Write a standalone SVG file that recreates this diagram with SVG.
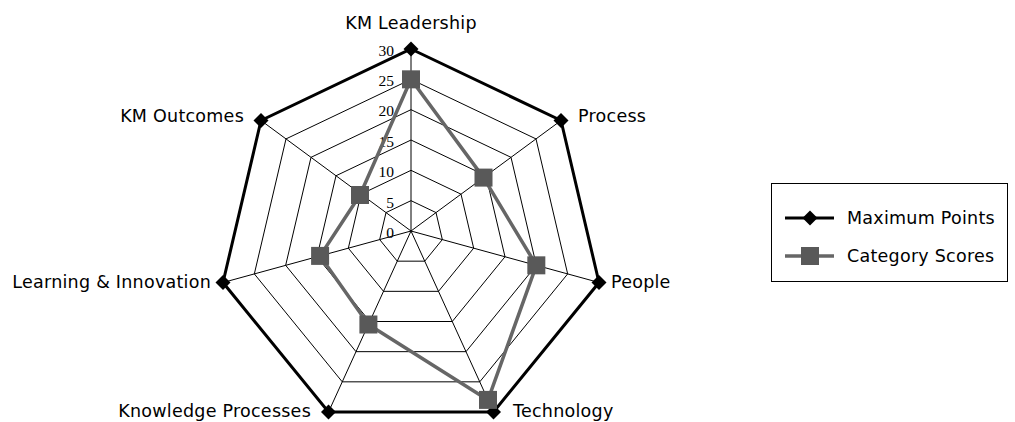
<svg xmlns="http://www.w3.org/2000/svg" width="1015" height="422" viewBox="0 0 1015 422">
<style>
.grid{fill:none;stroke:#000;stroke-width:1}
.max{fill:none;stroke:#000;stroke-width:3;stroke-linejoin:miter}
.score{fill:none;stroke:#666;stroke-width:3.5;stroke-linejoin:round}
.lbl{font-family:"DejaVu Sans",Verdana,sans-serif;font-size:17.5px;letter-spacing:0.25px;fill:#000}
.tick{font-family:"Liberation Serif","Times New Roman",serif;font-size:15.5px;fill:#000;text-anchor:end}
</style>
<defs>
<path id="dia" d="M0,-7.5 L7.5,0 L0,7.5 L-7.5,0 Z" fill="#000"/>
<rect id="sq" x="-9" y="-9" width="18" height="18" fill="#595959"/>
</defs>
<rect width="1015" height="422" fill="#fff"/>
<g id="grid">
<polygon class="grid" points="411,200.67 436,212.58 442.33,239.58 424.75,261.17 397.25,261.17 379.67,239.58 386,212.58"/>
<polygon class="grid" points="411,170.33 461,194.17 473.67,248.17 438.5,291.33 383.5,291.33 348.33,248.17 361,194.17"/>
<polygon class="grid" points="411,140 486,175.75 505,256.75 452.25,321.5 369.75,321.5 317,256.75 336,175.75"/>
<polygon class="grid" points="411,109.67 511,157.33 536.33,265.33 466,351.67 356,351.67 285.67,265.33 311,157.33"/>
<polygon class="grid" points="411,79.33 536,138.92 567.67,273.92 479.75,381.83 342.25,381.83 254.33,273.92 286,138.92"/>
<path class="grid" d="M411,231 L411,49 M411,231 L561,120.5 M411,231 L599,282.5 M411,231 L493.5,412 M411,231 L328.5,412 M411,231 L223,282.5 M411,231 L261,120.5"/>
</g>
<g id="ticks">
<text class="tick" x="394" y="56">30</text>
<text class="tick" x="394" y="86">25</text>
<text class="tick" x="394" y="116">20</text>
<text class="tick" x="394" y="147">15</text>
<text class="tick" x="394" y="177">10</text>
<text class="tick" x="394" y="208">5</text>
<text class="tick" x="394" y="238">0</text>
</g>
<g id="connectors">
<polygon id="max-series" class="max" points="411,49 561,120.5 599,282.5 493.5,412 328.5,412 223,282.5 261,120.5"/>
<polygon id="score-series" class="score" points="411,79.33 483.5,177.6 536.33,265.33 488,399.9 368.4,324.5 320.1,255.9 360,195"/>
</g>
<g id="max-markers">
<use href="#dia" x="411" y="49"/>
<use href="#dia" x="561" y="120.5"/>
<use href="#dia" x="599" y="282.5"/>
<use href="#dia" x="493.5" y="412"/>
<use href="#dia" x="328.5" y="412"/>
<use href="#dia" x="223" y="282.5"/>
<use href="#dia" x="261" y="120.5"/>
</g>
<g id="score-markers">
<use href="#sq" x="411" y="79.33"/>
<use href="#sq" x="483.5" y="177.6"/>
<use href="#sq" x="536.33" y="265.33"/>
<use href="#sq" x="488" y="399.9"/>
<use href="#sq" x="368.4" y="324.5"/>
<use href="#sq" x="320.1" y="255.9"/>
<use href="#sq" x="360" y="195"/>
</g>
<g id="axis-labels">
<g id="n-km-leadership"><text class="lbl" x="411" y="29" text-anchor="middle">KM Leadership</text></g>
<g id="n-process"><text class="lbl" x="578" y="122">Process</text></g>
<g id="n-people"><text class="lbl" x="611" y="288">People</text></g>
<g id="n-technology"><text class="lbl" x="513" y="417">Technology</text></g>
<g id="n-knowledge-processes"><text class="lbl" x="311" y="417" text-anchor="end">Knowledge Processes</text></g>
<g id="n-learning"><text class="lbl" x="211" y="288" text-anchor="end">Learning &amp; Innovation</text></g>
<g id="n-km-outcomes"><text class="lbl" x="244" y="122" text-anchor="end">KM Outcomes</text></g>
</g>
<g id="legend">
<rect x="771.5" y="183.5" width="236" height="98" fill="#fff" stroke="#000" stroke-width="1"/>
<line x1="785" y1="218" x2="834" y2="218" stroke="#000" stroke-width="3"/>
<use href="#dia" x="810" y="218"/>
<text class="lbl" x="847" y="224">Maximum Points</text>
<line x1="785" y1="256" x2="834" y2="256" stroke="#666" stroke-width="3.5"/>
<use href="#sq" x="810" y="256"/>
<text class="lbl" x="847" y="262">Category Scores</text>
</g>
</svg>
